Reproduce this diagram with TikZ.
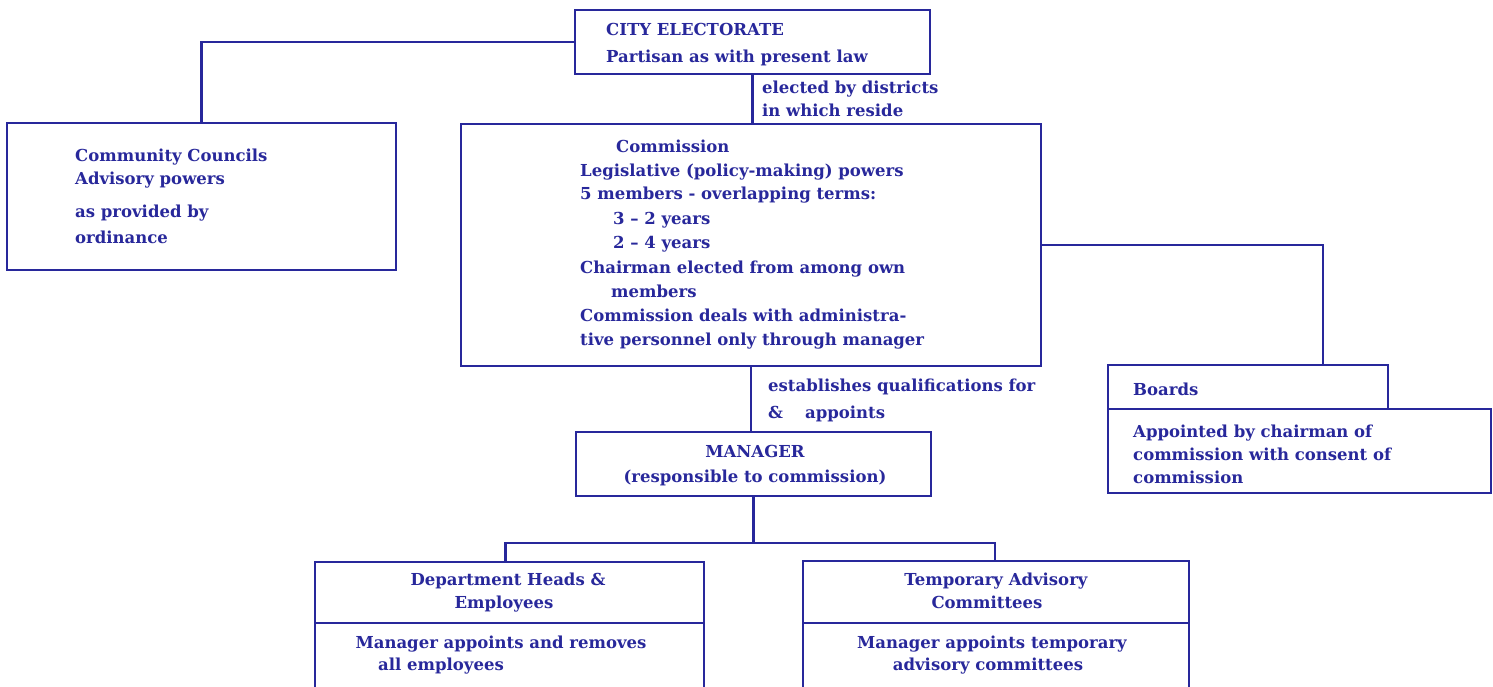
\documentclass[tikz,border=0pt]{standalone}
\usepackage{fontspec}
\newfontfamily\inkfont{DejaVu Serif}
\definecolor{ink}{RGB}{40,40,155}
\begin{document}
\begin{tikzpicture}[x=1pt,y=-1pt,
  box/.style={draw=ink, line width=2.4pt, rectangle, inner sep=0pt, outer sep=0pt, anchor=north west},
  conn/.style={draw=ink, line width=2.4pt},
  txt/.style={text=ink, inner sep=0pt, anchor=base west, font=\inkfont\fontsize{16.5}{22}\selectfont\bfseries},
  ctxt/.style={txt, anchor=base}]
\useasboundingbox (0,0) rectangle (1493,687);
\clip (0,0) rectangle (1493,687);
\fill[white] (0,0) rectangle (1493,687);
% boxes
\node[box, minimum width=355pt, minimum height=64pt] (elec) at (575,10) {};
\node[box, minimum width=389pt, minimum height=147pt] (comm) at (7,123) {};
\node[box, minimum width=580pt, minimum height=242pt] (cmsn) at (461,124) {};
\node[box, minimum width=280pt, minimum height=44pt] (bdtop) at (1108,365) {};
\node[box, minimum width=383pt, minimum height=84pt] (bdbot) at (1108,409) {};
\node[box, minimum width=355pt, minimum height=64pt] (mgr) at (576,432) {};
\node[box, minimum width=389pt, minimum height=61pt] (depttop) at (315,562) {};
\node[box, minimum width=389pt, minimum height=100pt] (deptbot) at (315,623) {};
\node[box, minimum width=386pt, minimum height=62pt] (temptop) at (803,561) {};
\node[box, minimum width=386pt, minimum height=100pt] (tempbot) at (803,623) {};
% connectors
\draw[conn] (elec.west) -| (comm.north);
\draw[conn] (elec.south) -- (elec.south |- cmsn.north);
\draw[conn] (cmsn.east) -| ([xshift=215pt]bdtop.north west);
\draw[conn] (cmsn.south) -- (cmsn.south |- mgr.north);
\coordinate (split) at (mgr.south |- 0,543);
\draw[conn] (mgr.south) -- (split);
\draw[conn] ([xshift=-4pt]depttop.north) |- (split) -| ([xshift=-1pt]temptop.north);
% texts
\node[txt] (t1) at (606,36) {CITY ELECTORATE};
\node[txt] (t2) at (606,63) {Partisan as with present law};
\node[txt] (t3) at (762,94) {elected by districts};
\node[txt] (t4) at (762,117) {in which reside};
\node[txt] (c1) at (75,162) {Community Councils};
\node[txt] (c2) at (75,185) {Advisory powers};
\node[txt] (c3) at (75,218) {as provided by};
\node[txt] (c4) at (75,243) {ordinance};
\node[txt] (m1) at (616,153) {Commission};
\node[txt] (m2) at (580,177) {Legislative (policy-making) powers};
\node[txt] (m3) at (580,200) {5 members - overlapping terms:};
\node[txt] (m4) at (613,224) {3 \textendash{} 2 years};
\node[txt] (m5) at (613,248) {2 \textendash{} 4 years};
\node[txt] (m6) at (580,273) {Chairman elected from among own};
\node[txt] (m7) at (611,297) {members};
\node[txt] (m8) at (580,321) {Commission deals with administra-};
\node[txt] (m9) at (580,345) {tive personnel only through manager};
\node[txt] (e1) at (768,391) {establishes qualifications for};
\node[txt] (e2) at (768,418) {\&\hspace{22pt}appoints};
\node[ctxt] (g1) at (755,457) {MANAGER};
\node[ctxt] (g2) at (755,482) {(responsible to commission)};
\node[txt] (b1) at (1133,395) {Boards};
\node[txt] (b2) at (1133,437) {Appointed by chairman of};
\node[txt] (b3) at (1133,460) {commission with consent of};
\node[txt] (b4) at (1133,483) {commission};
\node[ctxt] (d1) at (508,585) {Department Heads \&};
\node[ctxt] (d2) at (504,608) {Employees};
\node[ctxt] (d3) at (501,648) {Manager appoints and removes};
\node[txt] (d4) at (378,670) {all employees};
\node[ctxt] (p1) at (996,585) {Temporary Advisory};
\node[ctxt] (p2) at (987,608) {Committees};
\node[ctxt] (p3) at (992,648) {Manager appoints temporary};
\node[ctxt] (p4) at (988,670) {advisory committees};
\end{tikzpicture}
\end{document}
